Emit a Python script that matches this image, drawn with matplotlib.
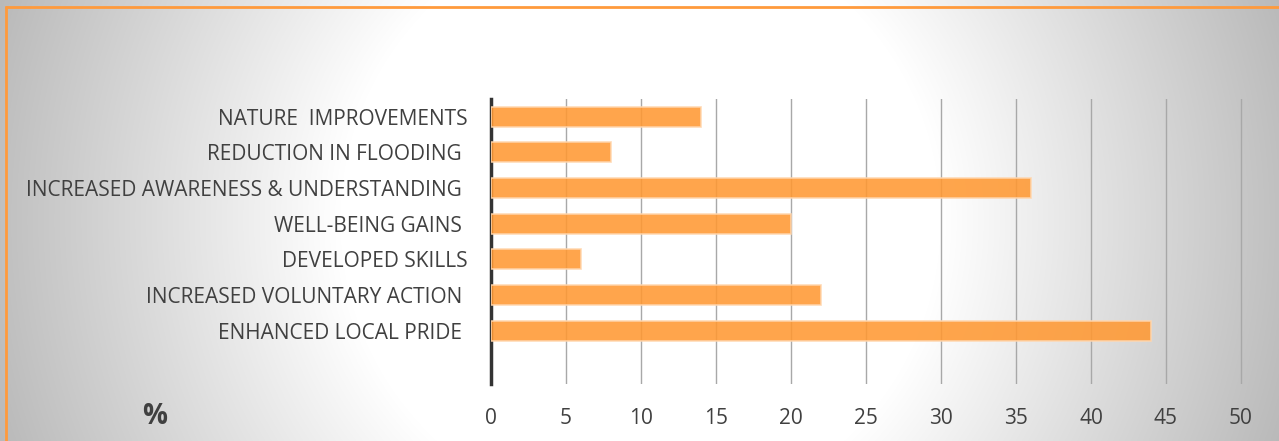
import numpy as np
import matplotlib.pyplot as plt

# chart data (top to bottom as shown)
categories = [
    "NATURE  IMPROVEMENTS",
    "REDUCTION IN FLOODING ",
    "INCREASED AWARENESS & UNDERSTANDING ",
    "WELL-BEING GAINS ",
    "DEVELOPED SKILLS",
    "INCREASED VOLUNTARY ACTION ",
    "ENHANCED LOCAL PRIDE ",
]
values = [14, 8, 36, 20, 6, 22, 44]
x_ticks = [0, 5, 10, 15, 20, 25, 30, 35, 40, 45, 50]

FONT = ["Open Sans", "DejaVu Sans"]

W, H = 1279, 441
fig = plt.figure(figsize=(W / 100, H / 100), dpi=100)

# radial grey background
bg = fig.add_axes([0, 0, 1, 1], zorder=0)
yy, xx = np.mgrid[0:H, 0:W]
r = np.hypot(xx - 640, yy - 220)
g = 255 - np.clip(r - 300, 0, None) * (63 / 340)
g = np.clip(g, 180, 255) / 255.0
bg.imshow(np.dstack([g, g, g]), extent=[0, W, H, 0], aspect="auto")
bg.set_xlim(0, W)
bg.set_ylim(H, 0)
bg.axis("off")
# orange frame (top / left visible)
bg.plot([5, W + 5], [6.5, 6.5], color="#FF9A3C", lw=2, solid_capstyle="butt")
bg.plot([5.5, 5.5], [6, H + 5], color="#FF9A3C", lw=2, solid_capstyle="butt")

# plot area: x 491..1241 px, y 99..384 px
ax = fig.add_axes([491 / W, 1 - 384 / H, 752 / W, 285 / H], zorder=1)
ax.patch.set_alpha(0)

pos = np.arange(len(categories))
ax.barh(pos, values, height=0.56, color="#FF9933", alpha=0.88,
        edgecolor="#FFD6AE", linewidth=1.2, zorder=3)

ax.set_xlim(0, 50 * 752 / 750)
ax.set_ylim(len(categories) + 0.5, -0.5)
ax.set_xticks(x_ticks)
ax.set_yticks(pos)
ax.set_yticklabels(categories)
ax.grid(axis="x", color="#A8A8A8", lw=1, zorder=1)
ax.tick_params(length=0, labelcolor="#404040", labelsize=15)
ax.tick_params(axis="x", pad=17)
ax.tick_params(axis="y", pad=17)
for lab in ax.get_xticklabels() + ax.get_yticklabels():
    lab.set_family(FONT)

for s in ["top", "right", "bottom"]:
    ax.spines[s].set_visible(False)
ax.spines["left"].set_color("#333333")
ax.spines["left"].set_linewidth(2.5)

fig.text(155 / W, 1 - 416 / H, "%", ha="center", va="center",
         fontsize=20, fontweight="bold", color="#404040", family=FONT)

fig.savefig("out.png", dpi=100)
